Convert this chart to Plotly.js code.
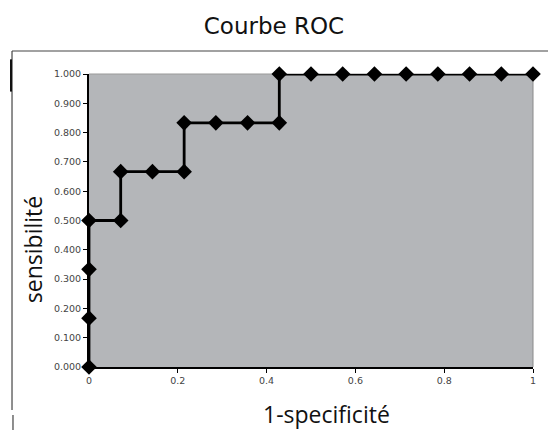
<!DOCTYPE html>
<html>
<head>
<meta charset="utf-8">
<script src="https://cdn.plot.ly/plotly-3.0.1.min.js"></script>
<style>html,body{margin:0;padding:0;background:#fff;}#chart{width:548px;height:430px;}</style>
</head>
<body>
<div id="chart"></div>
<script>
// 1 - specificity (false positive rate) and sensitivity (true positive rate)
const fpr = [0, 0, 0, 0, 0.0714, 0.0714, 0.1429, 0.2143, 0.2143, 0.2857, 0.3571, 0.4286, 0.4286, 0.5, 0.5714, 0.6429, 0.7143, 0.7857, 0.8571, 0.9286, 1];
const tpr = [0, 0.1667, 0.3333, 0.5, 0.5, 0.6667, 0.6667, 0.6667, 0.8333, 0.8333, 0.8333, 0.8333, 1, 1, 1, 1, 1, 1, 1, 1, 1];
const xTicks = [0, 0.2, 0.4, 0.6, 0.8, 1];
const xTickLabels = ['0', '0.2', '0.4', '0.6', '0.8', '1'];
const yTicks = [0, 0.1, 0.2, 0.3, 0.4, 0.5, 0.6, 0.7, 0.8, 0.9, 1];
const yTickLabels = ['0.000', '0.100', '0.200', '0.300', '0.400', '0.500', '0.600', '0.700', '0.800', '0.900', '1.000'];
const chartTitle = 'Courbe ROC';
const xTitle = '1-specificité';
const yTitle = 'sensibilité';

const trace = {
  x: fpr, y: tpr, type: 'scatter', mode: 'lines+markers',
  line: {color: '#000', width: 2.8},
  marker: {symbol: 'diamond', size: 12, color: '#000'},
  cliponaxis: false, hoverinfo: 'skip'
};

const tickFont = {family: 'DejaVu Sans, sans-serif', size: 9.5, color: '#444'};
const titleFont = {family: 'Open Sans, sans-serif', size: 23, color: '#111'};

const layout = {
  width: 548, height: 430,
  margin: {l: 89, r: 15, t: 74, b: 63},
  paper_bgcolor: '#fff', plot_bgcolor: '#b4b6b9',
  showlegend: false,
  title: {text: chartTitle, x: 0.5, xref: 'container', xanchor: 'center', y: 0.94, yref: 'container', yanchor: 'middle',
          font: {family: 'DejaVu Sans, sans-serif', size: 23, color: '#111'}},
  xaxis: {range: [0, 1], tickvals: xTicks, ticktext: xTickLabels, showgrid: false, zeroline: false,
          showline: true, linecolor: '#000', linewidth: 2, ticks: 'outside', ticklen: 4, tickcolor: '#000', tickwidth: 1,
          tickfont: tickFont, fixedrange: true},
  yaxis: {range: [0, 1], tickvals: yTicks, ticktext: yTickLabels, showgrid: false, zeroline: false,
          showline: true, linecolor: '#000', linewidth: 2, ticks: 'outside', ticklen: 4, tickcolor: '#000', tickwidth: 1,
          tickfont: tickFont, fixedrange: true},
  annotations: [
    {text: xTitle, xref: 'paper', yref: 'paper', x: 0.536, y: -0.160, xanchor: 'center', yanchor: 'middle',
     showarrow: false, font: titleFont},
    {text: yTitle, xref: 'paper', yref: 'paper', x: -0.126, y: 0.399, xanchor: 'center', yanchor: 'middle',
     textangle: -90, showarrow: false, font: titleFont}
  ],
  shapes: [
    {type: 'line', xref: 'paper', yref: 'paper', x0: 0, x1: 1, y0: 1, y1: 1, line: {color: '#999', width: 1}, layer: 'below'},
    {type: 'line', xref: 'paper', yref: 'paper', x0: 1, x1: 1, y0: 0, y1: 1, line: {color: '#8a8a8a', width: 1}, layer: 'below'},
    {type: 'line', xref: 'paper', yref: 'paper', x0: -0.1734, x1: 1.04, y0: 1.0785, y1: 1.0785, line: {color: '#444', width: 1.2}},
    {type: 'line', xref: 'paper', yref: 'paper', x0: -0.1734, x1: -0.1734, y0: 1.0785, y1: -0.147, line: {color: '#444', width: 1.2}},
    {type: 'line', xref: 'paper', yref: 'paper', x0: -0.1757, x1: -0.1757, y0: 1.05, y1: 0.94, line: {color: '#111', width: 2}},
    {type: 'line', xref: 'paper', yref: 'paper', x0: -0.1712, x1: -0.1712, y0: -0.164, y1: -0.22, line: {color: '#444', width: 1.2}}
  ]
};

Plotly.newPlot('chart', [trace], layout, {staticPlot: true, displayModeBar: false});
</script>
</body>
</html>
